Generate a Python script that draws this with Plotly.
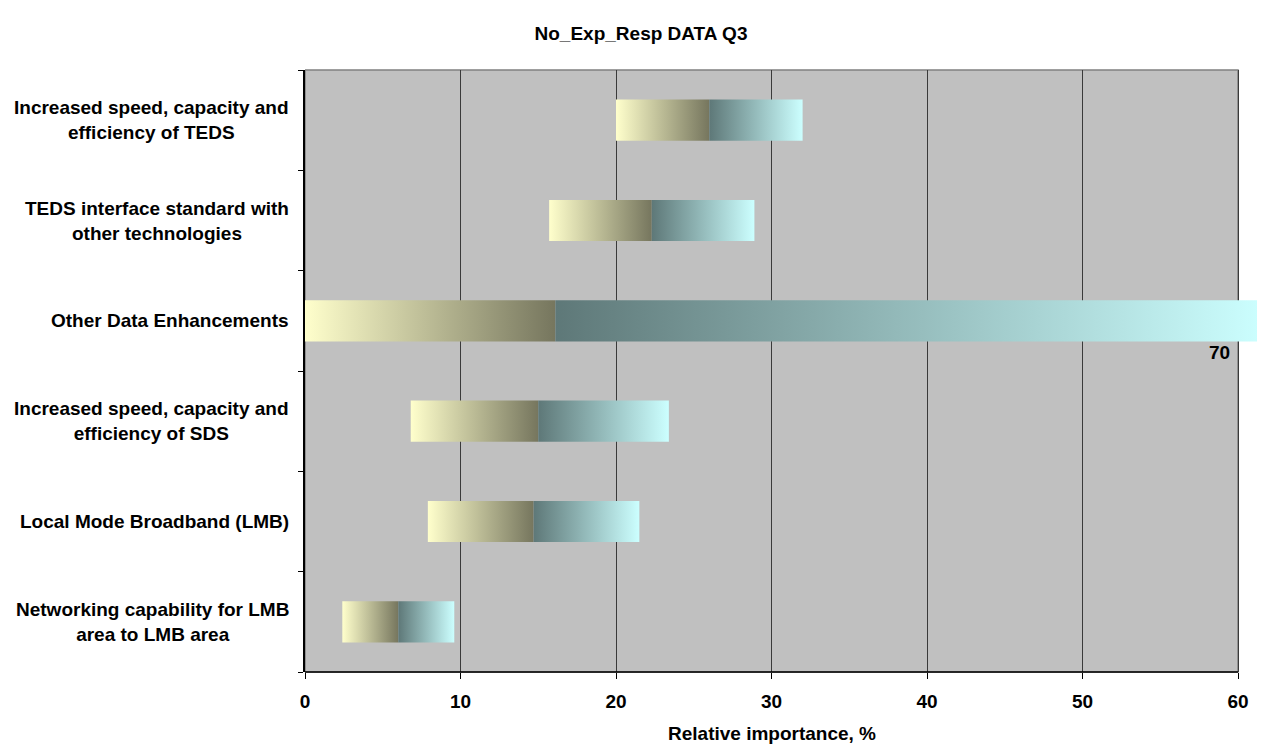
import plotly.graph_objects as go

# ---- data (bottom to top) ----
categories = [
    "Networking capability for LMB<br>area to LMB area",
    "Local Mode Broadband (LMB)",
    "Increased speed, capacity and<br>efficiency of SDS",
    "Other Data Enhancements",
    "TEDS interface standard with<br>other technologies",
    "Increased speed, capacity and<br>efficiency of TEDS",
]
base = [2.4, 7.9, 6.8, 0.0, 15.7, 20.0]      # invisible offset
seg_low = [3.6, 6.8, 8.2, 16.1, 6.6, 6.0]    # first (yellow -> olive) segment
seg_high = [3.6, 6.8, 8.4, 53.9, 6.6, 6.0]   # second (teal -> cyan) segment
labelled_index = 3                           # bar with a data label

title = "No_Exp_Resp DATA Q3"
x_title = "Relative importance, %"
x_ticks = [0, 10, 20, 30, 40, 50, 60]

# ---- style ----
FONT = "Liberation Sans, Arial, sans-serif"
FS = 19
OFF = 8                      # page body margin of the browser
W, H = 1265 - OFF, 744 - OFF
L, R, T, B = 305 - OFF, 0, 70 - OFF, 744 - 672
AX_MAX = 60
px_per_unit = (1238 - 305) / AX_MAX
x_range_max = (W - L - R) / px_per_unit
half_h = 0.205
scale_low = [[0, "#FFFFCC"], [1, "#76765E"]]
scale_high = [[0, "#5E7878"], [1, "#CCFFFF"]]

fig = go.Figure()

for i, cat in enumerate(categories):
    x0 = base[i]
    x1 = x0 + seg_low[i]
    x2 = x1 + seg_high[i]
    for a, b, cs in ((x0, x1, scale_low), (x1, x2, scale_high)):
        fig.add_trace(go.Scatter(
            x=[a, b, b, a, a],
            y=[i - half_h, i - half_h, i + half_h, i + half_h, i - half_h],
            mode="lines", line=dict(width=0), fill="toself",
            fillgradient=dict(type="horizontal", colorscale=cs,
                              start=a, stop=min(b, x_range_max)),
            hoverinfo="skip", showlegend=False,
        ))

# plot-area background and border (only up to 60)
fig.add_shape(type="rect", xref="x", yref="y domain", x0=0, x1=AX_MAX, y0=0, y1=1,
              fillcolor="#C0C0C0", line=dict(color="#808080", width=1.5), layer="below")
fig.add_shape(type="line", xref="x", yref="y domain", x0=0, x1=AX_MAX, y0=0, y1=0,
              line=dict(color="black", width=1.5))

# category labels (centered multi-line block, right edge left of axis)
annotations = []
for i, cat in enumerate(categories):
    annotations.append(dict(
        xref="paper", yref="y", x=0, y=i, xanchor="right", yanchor="middle",
        xshift=-14, text=cat, showarrow=False, align="center",
        font=dict(family=FONT, size=FS, color="black", weight="bold"),
    ))

# data label of the long bar
end_val = base[labelled_index] + seg_low[labelled_index] + seg_high[labelled_index]
annotations.append(dict(
    xref="x", yref="y", x=59.6, y=labelled_index - 0.32, xanchor="right", yanchor="middle",
    text=f"{end_val:g}", showarrow=False,
    font=dict(family=FONT, size=FS, color="black", weight="bold"),
))

# x axis title
annotations.append(dict(
    xref="x", yref="paper", x=AX_MAX / 2, y=-(733 - 672) / (H - T - B), xanchor="center",
    yanchor="middle", text=x_title, showarrow=False,
    font=dict(family=FONT, size=FS, color="black", weight="bold"),
))

fig.update_layout(
    width=W, height=H,
    margin=dict(l=L, r=R, t=T, b=B, pad=0),
    paper_bgcolor="white", plot_bgcolor="rgba(0,0,0,0)",
    title=dict(text=title, x=(641 - OFF) / W, xref="container", xanchor="center",
               y=1 - (33 - OFF) / H, yref="container", yanchor="middle",
               font=dict(family=FONT, size=FS, color="black", weight="bold")),
    annotations=annotations,
    showlegend=False,
)

fig.update_xaxes(
    range=[0, x_range_max], tickvals=x_ticks, ticktext=[str(t) for t in x_ticks],
    showgrid=True, gridcolor="#3A3A3A", gridwidth=1, zeroline=False,
    showline=False, ticks="outside", ticklen=6, tickcolor="black", tickwidth=1,
    ticklabelstandoff=6,
    tickfont=dict(family=FONT, size=FS, color="black", weight="bold"),
    fixedrange=True,
)
fig.update_yaxes(
    range=[-0.5, len(categories) - 0.5],
    tickvals=[k - 0.5 for k in range(len(categories) + 1)],
    showticklabels=False, showgrid=False, zeroline=False,
    showline=True, linecolor="black", linewidth=1.5,
    ticks="outside", ticklen=5, tickcolor="black", tickwidth=1,
    fixedrange=True,
)

fig.write_html("out.html")
